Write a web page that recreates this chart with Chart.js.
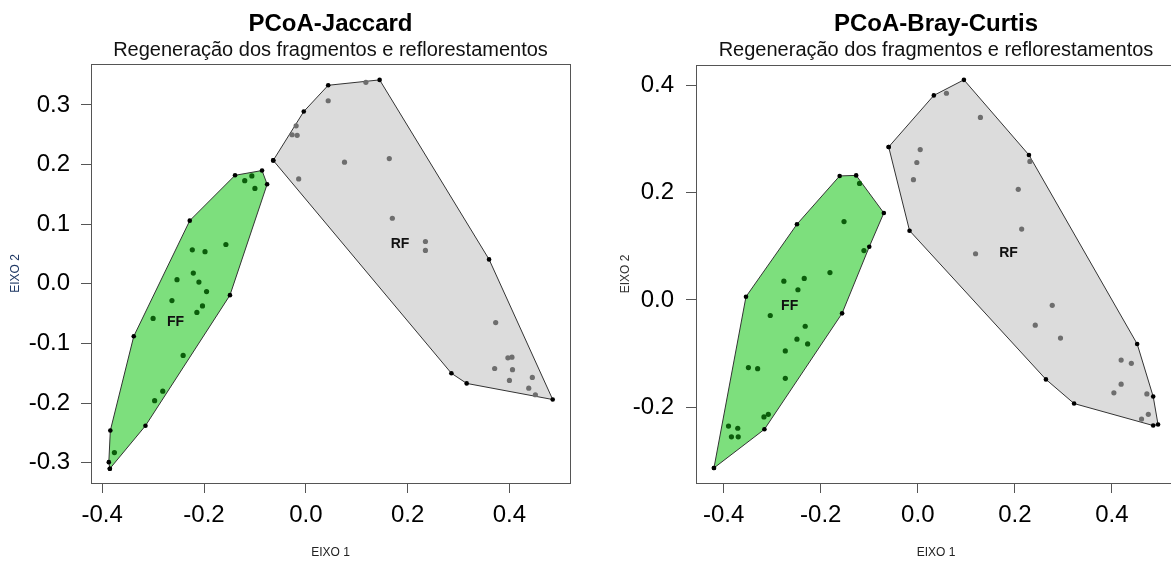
<!DOCTYPE html>
<html lang="pt">
<head>
  <meta charset="utf-8">
  <title>PCoA - Jaccard e Bray-Curtis</title>
  <script src="https://cdn.jsdelivr.net/npm/chart.js"></script>
  <style>
    html, body { margin: 0; padding: 0; background: #fff; overflow: hidden; }
    #wrap { position: relative; width: 1171px; height: 563px; overflow: hidden; }
    #jaccard { position: absolute; left: 0; top: 0; }
    #bray { position: absolute; left: 600px; top: 0; }
  </style>
</head>
<body>
<div id="wrap">
  <canvas id="jaccard" width="600" height="563"></canvas>
  <canvas id="bray" width="580" height="563"></canvas>
</div>

<script>
  // ---------------- PCoA-Jaccard ----------------
  const jacFF_x = [-0.221, -0.253, -0.210, -0.195, -0.263, -0.203, -0.214, -0.300, -0.241, -0.281, -0.297, -0.376, -0.106, -0.120, -0.100, -0.157, -0.223, -0.198];
  const jacFF_y = [0.018, 0.007, 0.003, -0.013, -0.028, -0.037, -0.048, -0.058, -0.120, -0.180, -0.196, -0.283, 0.181, 0.173, 0.160, 0.066, 0.057, 0.054];
  const jacFFhull_x = [-0.385, -0.315, -0.149, -0.076, -0.086, -0.139, -0.228, -0.338, -0.384, -0.387];
  const jacFFhull_y = [-0.310, -0.238, -0.019, 0.167, 0.190, 0.182, 0.106, -0.088, -0.246, -0.299];

  const jacRF_x = [-0.019, -0.027, -0.017, 0.044, 0.118, 0.076, 0.164, -0.014, 0.170, 0.235, 0.235, 0.373, 0.397, 0.405, 0.371, 0.406, 0.400, 0.445, 0.438, 0.451];
  const jacRF_y = [0.265, 0.250, 0.249, 0.307, 0.338, 0.204, 0.210, 0.176, 0.110, 0.071, 0.056, -0.065, -0.124, -0.123, -0.142, -0.144, -0.162, -0.157, -0.175, -0.186];
  const jacRFhull_x = [-0.064, -0.004, 0.044, 0.145, 0.360, 0.485, 0.316, 0.286];
  const jacRFhull_y = [0.207, 0.289, 0.333, 0.342, 0.041, -0.194, -0.167, -0.150];

  const jacLabels = ['FF', 'RF'];
  const jacLabel_x = [-0.256, 0.185];
  const jacLabel_y = [-0.065, 0.066];

  const jacXticks = [-0.4, -0.2, 0.0, 0.2, 0.4];
  const jacYticks = [-0.3, -0.2, -0.1, 0.0, 0.1, 0.2, 0.3];
  const jacXlim = [-0.422, 0.519];
  const jacYlim = [-0.334, 0.369];

  // ---------------- PCoA-Bray-Curtis ----------------
  const bcFF_x = [-0.120, -0.152, -0.111, -0.181, -0.276, -0.234, -0.247, -0.304, -0.232, -0.249, -0.227, -0.273, -0.349, -0.330, -0.273, -0.308, -0.317, -0.390, -0.371, -0.384, -0.370];
  const bcFF_y = [0.217, 0.146, 0.092, 0.051, 0.035, 0.040, 0.019, -0.029, -0.049, -0.073, -0.082, -0.095, -0.126, -0.128, -0.146, -0.213, -0.218, -0.235, -0.239, -0.255, -0.255];
  const bcFFhull_x = [-0.420, -0.316, -0.156, -0.100, -0.070, -0.127, -0.161, -0.249, -0.354];
  const bcFFhull_y = [-0.313, -0.241, -0.025, 0.099, 0.162, 0.232, 0.231, 0.141, 0.006];

  const bcRF_x = [0.059, 0.129, 0.005, -0.002, -0.009, 0.231, 0.207, 0.214, 0.119, 0.277, 0.242, 0.294, 0.419, 0.440, 0.419, 0.404, 0.472, 0.475, 0.461];
  const bcRF_y = [0.385, 0.340, 0.280, 0.256, 0.224, 0.258, 0.206, 0.132, 0.086, -0.010, -0.047, -0.071, -0.112, -0.118, -0.157, -0.173, -0.175, -0.213, -0.222];
  const bcRFhull_x = [-0.060, 0.033, 0.095, 0.229, 0.452, 0.485, 0.495, 0.485, 0.322, 0.264, -0.017];
  const bcRFhull_y = [0.285, 0.381, 0.410, 0.270, -0.082, -0.180, -0.232, -0.234, -0.193, -0.148, 0.129];

  const bcLabels = ['FF', 'RF'];
  const bcLabel_x = [-0.264, 0.187];
  const bcLabel_y = [-0.011, 0.087];

  const bcXticks = [-0.4, -0.2, 0.0, 0.2, 0.4];
  const bcYticks = [-0.2, 0.0, 0.2, 0.4];
  const bcXlim = [-0.457, 0.532];
  const bcYlim = [-0.341, 0.438];

  const FONT = '"Liberation Sans", Arial, sans-serif';

  function toXY(xs, ys) {
    return xs.map(function(x, i) { return {x: x, y: ys[i]}; });
  }
  // closed polygon: repeat first vertex at the end
  function toLoop(xs, ys) {
    var pts = toXY(xs, ys);
    pts.push(pts[0]);
    return pts;
  }

  // plot box + group names (FF / RF)
  var boxAndLabels = {
    id: 'boxAndLabels',
    afterDatasetsDraw: function(chart, args, opts) {
      var ctx = chart.ctx, a = chart.chartArea;
      ctx.save();
      ctx.strokeStyle = '#555';
      ctx.lineWidth = 1;
      ctx.strokeRect(Math.round(a.left) + 0.5, Math.round(a.top) + 0.5,
                     Math.round(a.right - a.left), Math.round(a.bottom - a.top));
      ctx.fillStyle = '#111';
      ctx.font = 'bold 14px ' + FONT;
      ctx.textAlign = 'center';
      ctx.textBaseline = 'middle';
      var sx = chart.scales.x, sy = chart.scales.y;
      opts.names.forEach(function(n, i) {
        ctx.fillText(n, sx.getPixelForValue(opts.xs[i]), sy.getPixelForValue(opts.ys[i]));
      });
      ctx.restore();
    }
  };

  function makeChart(id, p) {
    var ctx = document.getElementById(id).getContext('2d');
    return new Chart(ctx, {
      type: 'scatter',
      data: {
        datasets: [
          {
            label: 'FF', data: toXY(p.ffX, p.ffY), order: 1,
            pointRadius: 2.6, pointBackgroundColor: '#0b5d0b', pointBorderWidth: 0
          },
          {
            label: 'RF', data: toXY(p.rfX, p.rfY), order: 1,
            pointRadius: 2.6, pointBackgroundColor: '#6e6e6e', pointBorderWidth: 0
          },
          {
            label: 'FF hull', data: toLoop(p.ffHX, p.ffHY), order: 2,
            showLine: true, fill: 'shape', backgroundColor: '#7ddf7d',
            borderColor: '#333', borderWidth: 1, tension: 0,
            pointRadius: 2.3, pointBackgroundColor: '#000', pointBorderWidth: 0
          },
          {
            label: 'RF hull', data: toLoop(p.rfHX, p.rfHY), order: 2,
            showLine: true, fill: 'shape', backgroundColor: '#dcdcdc',
            borderColor: '#333', borderWidth: 1, tension: 0,
            pointRadius: 2.3, pointBackgroundColor: '#000', pointBorderWidth: 0
          }
        ]
      },
      options: {
        responsive: false,
        animation: false,
        devicePixelRatio: 1,
        layout: {padding: {left: 0, top: 0, right: p.padRight, bottom: 0}},
        plugins: {
          legend: {display: false},
          tooltip: {enabled: false},
          title: {
            display: true, text: p.title, fullSize: false, color: '#000',
            font: {family: FONT, size: 24, weight: 'bold'},
            padding: {top: 10, bottom: 0}
          },
          subtitle: {
            display: true, text: 'Regeneração dos fragmentos e reflorestamentos',
            fullSize: false, color: '#111',
            font: {family: FONT, size: 20},
            padding: {top: 0, bottom: p.subPad}
          },
          boxAndLabels: {names: p.names, xs: p.labX, ys: p.labY}
        },
        scales: {
          x: {
            type: 'linear', min: p.xlim[0], max: p.xlim[1],
            afterBuildTicks: function(s) { s.ticks = p.xticks.map(function(v) { return {value: v}; }); },
            afterFit: function(s) { s.height = 80; },
            ticks: {
              autoSkip: false, maxRotation: 0, padding: 8, color: '#000',
              font: {family: FONT, size: 24},
              callback: function(v) { return v.toFixed(1); }
            },
            grid: {display: true, drawOnChartArea: false, drawTicks: true, tickLength: 10, color: '#555'},
            border: {display: false},
            title: {display: true, text: 'EIXO 1', color: '#222', font: {family: FONT, size: 12}, padding: {top: 0, bottom: 3}}
          },
          y: {
            type: 'linear', min: p.ylim[0], max: p.ylim[1],
            afterBuildTicks: function(s) { s.ticks = p.yticks.map(function(v) { return {value: v}; }); },
            afterFit: function(s) { s.width = p.yWidth; },
            ticks: {
              autoSkip: false, padding: p.yTickPad, color: '#000',
              font: {family: FONT, size: 24},
              callback: function(v) { return v.toFixed(1); }
            },
            grid: {display: true, drawOnChartArea: false, drawTicks: true, tickLength: 10, color: '#555'},
            border: {display: false},
            title: {display: true, text: 'EIXO 2', color: p.yTitleColor, font: {family: FONT, size: 12}, padding: {top: p.yTitlePad, bottom: 0}}
          }
        }
      },
      plugins: [boxAndLabels]
    });
  }

  makeChart('jaccard', {
    title: 'PCoA-Jaccard',
    ffX: jacFF_x, ffY: jacFF_y, ffHX: jacFFhull_x, ffHY: jacFFhull_y,
    rfX: jacRF_x, rfY: jacRF_y, rfHX: jacRFhull_x, rfHY: jacRFhull_y,
    names: jacLabels, labX: jacLabel_x, labY: jacLabel_y,
    xticks: jacXticks, yticks: jacYticks, xlim: jacXlim, ylim: jacYlim,
    padRight: 30, subPad: 1, yWidth: 91, yTickPad: 11, yTitlePad: 8, yTitleColor: '#1f3864'
  });

  makeChart('bray', {
    title: 'PCoA-Bray-Curtis',
    ffX: bcFF_x, ffY: bcFF_y, ffHX: bcFFhull_x, ffHY: bcFFhull_y,
    rfX: bcRF_x, rfY: bcRF_y, rfHX: bcRFhull_x, rfHY: bcRFhull_y,
    names: bcLabels, labX: bcLabel_x, labY: bcLabel_y,
    xticks: bcXticks, yticks: bcYticks, xlim: bcXlim, ylim: bcYlim,
    padRight: 4, subPad: 2, yWidth: 96, yTickPad: 12, yTitlePad: 18, yTitleColor: '#333'
  });
</script>
</body>
</html>
